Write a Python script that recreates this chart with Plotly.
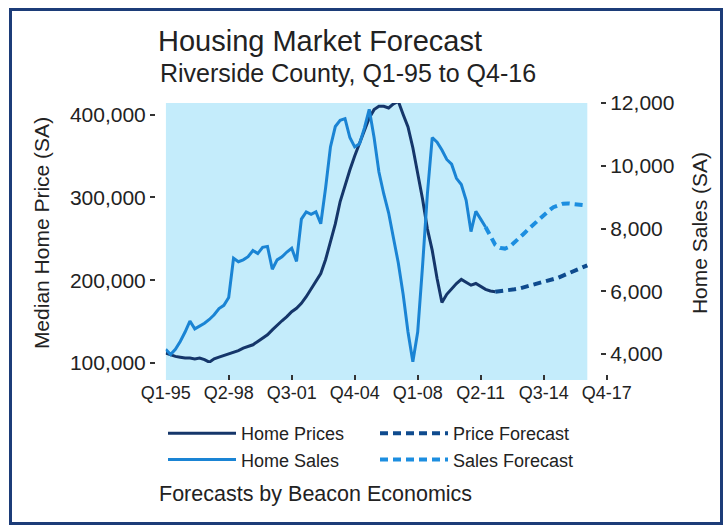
import plotly.graph_objects as go

# Quarter labels on the x axis (one tick every 13 quarters, Q1-95 = quarter 0)
tick_quarters = [0, 13, 26, 39, 52, 65, 78, 91]
tick_labels = ["Q1-95", "Q2-98", "Q3-01", "Q4-04", "Q1-08", "Q2-11", "Q3-14", "Q4-17"]

# Median home price (SA), quarterly, Q1-95 .. Q1-12
price_hist = [
    112000, 110000, 108000, 107000, 106000, 106000, 105000, 106000, 104000, 101000,
    105000, 107000, 109000, 111000, 113000, 115000, 118000, 120000, 122000, 126000,
    130000, 134000, 140000, 146000, 151000, 156000, 162000, 166000, 172000, 180000,
    189000, 198000, 208000, 225000, 245000, 268000, 295000, 315000, 333000, 350000,
    366000, 382000, 396000, 406000, 410000, 410000, 408000, 413000, 416000, 400000,
    385000, 360000, 330000, 298000, 262000, 236000, 202000, 173000, 183000, 190000,
    196000, 201000, 198000, 194000, 196000, 192000, 189000, 187000, 186000,
]
# Price forecast, Q1-12 .. Q4-16
price_fcst = [
    186000, 186500, 187000, 188000, 189000, 190000, 191500, 193000, 194500, 196000,
    197500, 199000, 201000, 203000, 205500, 208000, 210500, 213000, 215500, 218000,
]

# Home sales (SA), quarterly, Q1-95 .. Q3-11
sales_hist = [
    4150, 3980, 4150, 4400, 4700, 5050, 4800, 4880, 4980, 5100,
    5250, 5450, 5550, 5800, 7050, 6940, 7000, 7100, 7300, 7200,
    7400, 7430, 6700, 7000, 7100, 7250, 7370, 6950, 8300, 8530,
    8450, 8530, 8150, 9300, 10600, 11250, 11450, 11500, 10900, 10600,
    10700, 11200, 11800, 10900, 9800, 9100, 8500, 7700, 6900, 5900,
    4700, 3750, 4700, 6800, 9100, 10900, 10750, 10500, 10200, 10050,
    9600, 9400, 8900, 7900, 8550, 8300, 8050,
]
# Sales forecast, Q3-11 .. Q4-16
sales_fcst = [
    8050, 7750, 7480, 7380, 7360, 7420, 7550, 7700, 7850, 8000, 8150,
    8300, 8440, 8560, 8680, 8750, 8790, 8800, 8790, 8770, 8750, 8730,
]

price_hist_q = list(range(len(price_hist)))
price_fcst_q = list(range(len(price_hist) - 1, len(price_hist) - 1 + len(price_fcst)))
sales_hist_q = list(range(len(sales_hist)))
sales_fcst_q = list(range(len(sales_hist) - 1, len(sales_hist) - 1 + len(sales_fcst)))
last_quarter = 87

price_ticks = [100000, 200000, 300000, 400000]
sales_ticks = [4000, 6000, 8000, 10000, 12000]

NAVY = "#15366a"
BLUE = "#1a84d4"
NAVY_F = "#0f4b8e"
BLUE_F = "#1c8ee0"
SHADE = "#c4ecfb"
INK = "#222222"
FONT = "Liberation Sans, Arial, sans-serif"

# pixel layout helpers
W, H = 725, 527
ML, MR, MT, MB = 140, 110, 103, 147
PW = W - ML - MR
PH = H - MT - MB


def px(x):
    return (x - ML) / PW


def py(y):
    return (H - MB - y) / PH


fig = go.Figure()

fig.add_trace(go.Scatter(
    x=price_hist_q, y=price_hist, name="Home Prices", mode="lines",
    line=dict(color=NAVY, width=3), yaxis="y", legendrank=1,
))
fig.add_trace(go.Scatter(
    x=price_fcst_q, y=price_fcst, name="Price Forecast", mode="lines",
    line=dict(color=NAVY_F, width=4, dash="8px,5px"), yaxis="y", legendrank=2,
))
fig.add_trace(go.Scatter(
    x=sales_hist_q, y=sales_hist, name="Home Sales", mode="lines",
    line=dict(color=BLUE, width=3), yaxis="y2", legendrank=3,
))
fig.add_trace(go.Scatter(
    x=sales_fcst_q, y=sales_fcst, name="Sales Forecast", mode="lines",
    line=dict(color=BLUE_F, width=4, dash="8px,5px"), yaxis="y2", legendrank=4,
))

x0_px, x_per_q = 165.7, 4.846
x_hi = 91.5
fig.update_layout(
    width=W, height=H,
    margin=dict(l=ML, r=MR, t=MT, b=MB, autoexpand=False),
    paper_bgcolor="white",
    plot_bgcolor="rgba(0,0,0,0)",
    font=dict(family=FONT, color=INK),
    showlegend=True,
    title=dict(
        text="Housing Market Forecast",
        font=dict(size=29, color=INK),
        xref="paper", x=px(158), xanchor="left",
        yref="container", y=1 - 41 / H, yanchor="middle",
    ),
    xaxis=dict(
        domain=[px(x0_px), px(x0_px + x_hi * x_per_q)],
        range=[0, x_hi],
        anchor="free", position=0,
        tickmode="array", tickvals=tick_quarters, ticktext=tick_labels,
        ticks="inside", ticklen=5, tickwidth=1.5, tickcolor="#333",
        tickfont=dict(size=18, color=INK),
        showgrid=False, zeroline=False, showline=False,
    ),
    yaxis=dict(
        domain=[py(363), 1],
        range=[100000, 414000],
        anchor="free", position=px(155), side="left",
        tickmode="array", tickvals=price_ticks, tickformat=",d",
        ticks="outside", ticklen=5, tickwidth=1.5, tickcolor="#333",
        tickfont=dict(size=21, color=INK),
        showgrid=False, zeroline=False, showline=False,
        title=dict(text="Median Home Price (SA)", font=dict(size=21, color=INK), standoff=13),
    ),
    yaxis2=dict(
        range=[3713, 12000],
        overlaying="y", anchor="free", position=px(600), side="right",
        tickmode="array", tickvals=sales_ticks, tickformat=",d",
        ticks="outside", ticklen=5, tickwidth=1.5, tickcolor="#333",
        tickfont=dict(size=21, color=INK),
        showgrid=False, zeroline=False, showline=False,
        title=dict(text="Home Sales (SA)", font=dict(size=21, color=INK), standoff=18),
    ),
    legend=dict(
        orientation="h",
        x=px(163), xanchor="left",
        y=py(415), yanchor="top",
        entrywidth=129, entrywidthmode="pixels",
        itemwidth=68,
        font=dict(size=18, color=INK),
        bgcolor="rgba(0,0,0,0)",
        traceorder="normal",
    ),
    shapes=[
        # shaded history + forecast window
        dict(type="rect", xref="x", yref="paper", x0=0, x1=last_quarter, y0=0, y1=1,
             fillcolor=SHADE, line=dict(width=0), layer="below"),
        # outer frame
        dict(type="rect", xref="paper", yref="paper",
             x0=px(10.5), x1=px(721.5), y0=py(523.5), y1=py(9.5),
             line=dict(color="#1c3c78", width=3), fillcolor="rgba(0,0,0,0)", layer="above"),
    ],
    annotations=[
        dict(text="Riverside County, Q1-95 to Q4-16", xref="paper", yref="paper",
             x=px(158), y=py(73), xanchor="left", yanchor="middle", showarrow=False,
             font=dict(size=25, color=INK)),
        dict(text="Forecasts by Beacon Economics", xref="paper", yref="paper",
             x=px(157), y=py(494), xanchor="left", yanchor="middle", showarrow=False,
             font=dict(size=21.5, color=INK)),
    ],
)

fig.write_html("out.html")
